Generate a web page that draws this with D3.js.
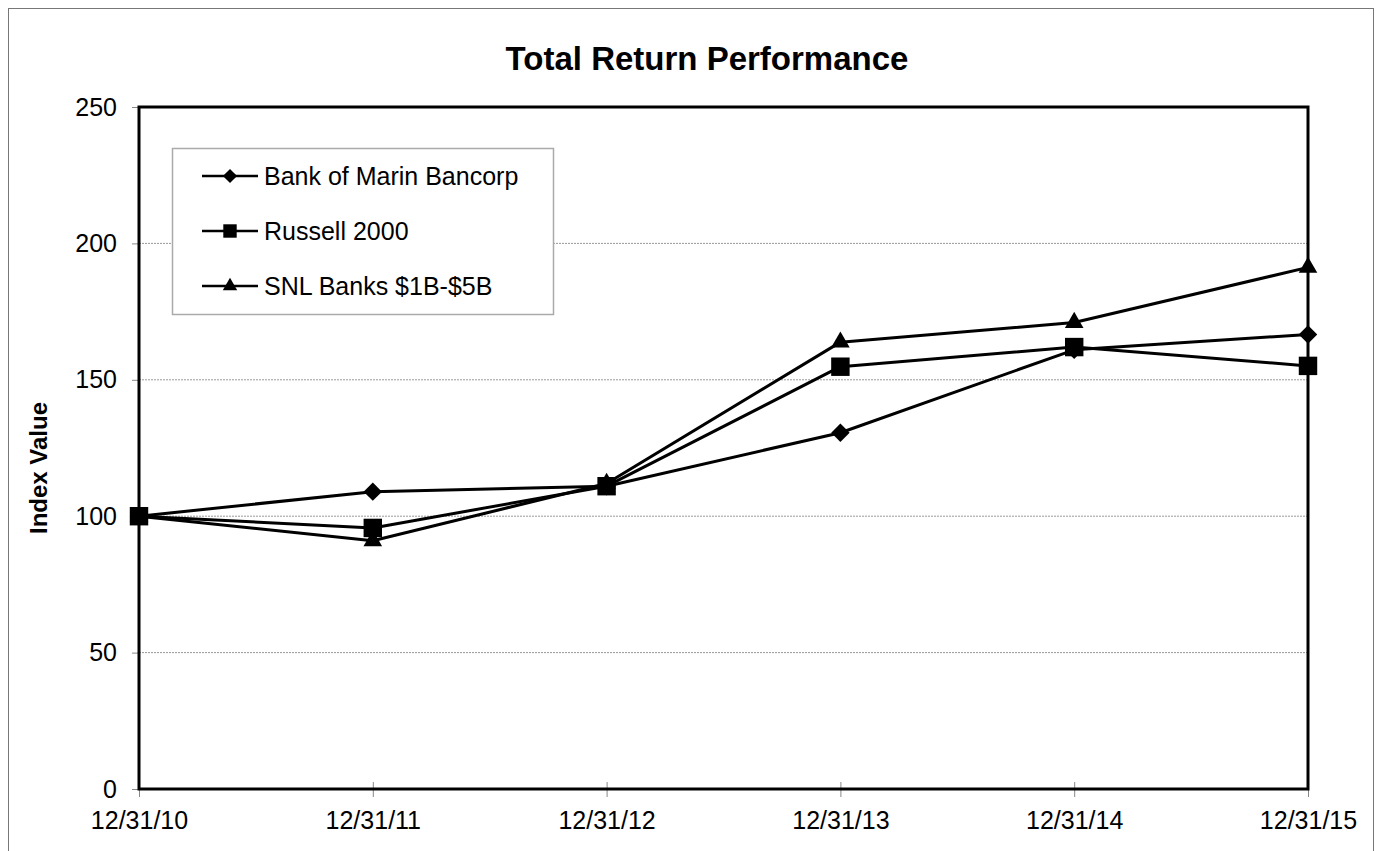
<!DOCTYPE html>
<html>
<head>
<meta charset="utf-8">
<script src="https://cdn.jsdelivr.net/npm/d3@7"></script>
<style>
  body { margin: 0; background: #fff; }
  svg { display: block; font-family: 'Liberation Sans', Arial, sans-serif; }
</style>
</head>
<body>
<div id="chart"></div>
<script>
const categories = ['12/31/10', '12/31/11', '12/31/12', '12/31/13', '12/31/14', '12/31/15'];
const bankOfMarin = [100, 109, 111, 130.6, 161, 166.6];
const russell2000 = [100, 95.7, 111, 154.8, 162, 155.1];
const snlBanks = [100, 91, 112, 163.8, 171, 191.2];
const yTicks = [0, 50, 100, 150, 200, 250];

// draw order: square series last so it sits on top like the original
const series = [
  { name: 'Bank of Marin Bancorp', values: bankOfMarin, marker: 'diamond' },
  { name: 'SNL Banks $1B-$5B', values: snlBanks, marker: 'triangle' },
  { name: 'Russell 2000', values: russell2000, marker: 'square' }
];
const legendOrder = ['Bank of Marin Bancorp', 'Russell 2000', 'SNL Banks $1B-$5B'];

const width = 1381, height = 851;
const margin = { top: 107, right: 73, bottom: 62, left: 139 };
const innerW = width - margin.left - margin.right;
const innerH = height - margin.top - margin.bottom;

const svg = d3.select('#chart').append('svg')
  .attr('width', width)
  .attr('height', height);

svg.append('rect')
  .attr('x', 8.5).attr('y', 8.5)
  .attr('width', 1365).attr('height', 900)
  .attr('fill', '#fff')
  .attr('stroke', '#777')
  .attr('stroke-width', 1);

svg.append('text')
  .attr('x', 707).attr('y', 70)
  .attr('text-anchor', 'middle')
  .style('font-size', '33px')
  .style('font-weight', 'bold')
  .text('Total Return Performance');

svg.append('text')
  .attr('transform', 'translate(47,468) rotate(-90)')
  .attr('text-anchor', 'middle')
  .style('font-size', '24px')
  .style('font-weight', 'bold')
  .text('Index Value');

const chartArea = svg.append('g')
  .attr('transform', `translate(${margin.left},${margin.top})`);

const xScale = d3.scalePoint().domain(categories).range([0, innerW]);
const yScale = d3.scaleLinear().domain([0, 250]).range([innerH, 0]);

// grid
chartArea.append('g')
  .selectAll('line')
  .data(yTicks.filter(d => d > 0 && d < 250))
  .enter().append('line')
  .attr('x1', 0).attr('x2', innerW)
  .attr('y1', d => yScale(d)).attr('y2', d => yScale(d))
  .attr('stroke', '#999')
  .attr('stroke-width', 1)
  .attr('stroke-dasharray', '2,1');

// axes
const yAxis = d3.axisLeft(yScale).tickValues(yTicks).tickSize(7).tickPadding(15);
const xAxis = d3.axisBottom(xScale).tickSize(8).tickPadding(14);

const yAxisG = chartArea.append('g').call(yAxis);
const xAxisG = chartArea.append('g')
  .attr('transform', `translate(0,${innerH})`)
  .call(xAxis);

xAxisG.selectAll('.tick line').clone()
  .attr('y2', -7);

svg.selectAll('.domain').remove();
svg.selectAll('.tick line').attr('stroke', '#888').attr('stroke-width', 1);
svg.selectAll('.tick text')
  .attr('fill', '#000')
  .style('font-size', '25px')
  .style('font-family', "'Liberation Sans', Arial, sans-serif");

// plot frame
chartArea.append('rect')
  .attr('x', 0).attr('y', 0)
  .attr('width', innerW).attr('height', innerH)
  .attr('fill', 'none')
  .attr('stroke', '#000')
  .attr('stroke-width', 3);

// legend
const legend = svg.append('g').attr('transform', 'translate(172,148)');
legend.append('rect')
  .attr('x', 0.5).attr('y', 0.5)
  .attr('width', 381).attr('height', 166)
  .attr('fill', '#fff')
  .attr('stroke', '#aaa')
  .attr('stroke-width', 1.5);

function markerPath(type, big) {
  if (type === 'diamond') return d3.symbol(d3.symbolSquare, big ? 170 : 100)();
  if (type === 'square') return d3.symbol(d3.symbolSquare, big ? 340 : 180)();
  return d3.symbol(d3.symbolTriangle, big ? 150 : 90)();
}
function markerRot(type) { return type === 'diamond' ? ' rotate(45)' : ''; }

const line = d3.line()
  .x((d, i) => xScale(categories[i]))
  .y(d => yScale(d));

const seriesG = chartArea.append('g');
seriesG.selectAll('path.series')
  .data(series)
  .enter().append('path')
  .classed('series', true)
  .attr('d', d => line(d.values))
  .attr('fill', 'none')
  .attr('stroke', '#000')
  .attr('stroke-width', 3)
  .attr('stroke-linejoin', 'round');

series.forEach(s => {
  seriesG.append('g')
    .selectAll('path')
    .data(s.values)
    .enter().append('path')
    .attr('d', markerPath(s.marker, true))
    .attr('transform', (d, i) => `translate(${xScale(categories[i])},${yScale(d)})` + markerRot(s.marker))
    .attr('fill', '#000');
});

legendOrder.forEach((name, i) => {
  const s = series.find(d => d.name === name);
  const row = legend.append('g').attr('transform', `translate(0,${28 + i * 55})`);
  row.append('line')
    .attr('x1', 30).attr('x2', 86)
    .attr('y1', 0).attr('y2', 0)
    .attr('stroke', '#000')
    .attr('stroke-width', 2.5);
  row.append('path')
    .attr('d', markerPath(s.marker, false))
    .attr('transform', 'translate(58,0)' + markerRot(s.marker))
    .attr('fill', '#000');
  row.append('text')
    .attr('x', 92).attr('y', 0)
    .attr('dy', '0.35em')
    .style('font-size', '25px')
    .text(name);
});
</script>
</body>
</html>
